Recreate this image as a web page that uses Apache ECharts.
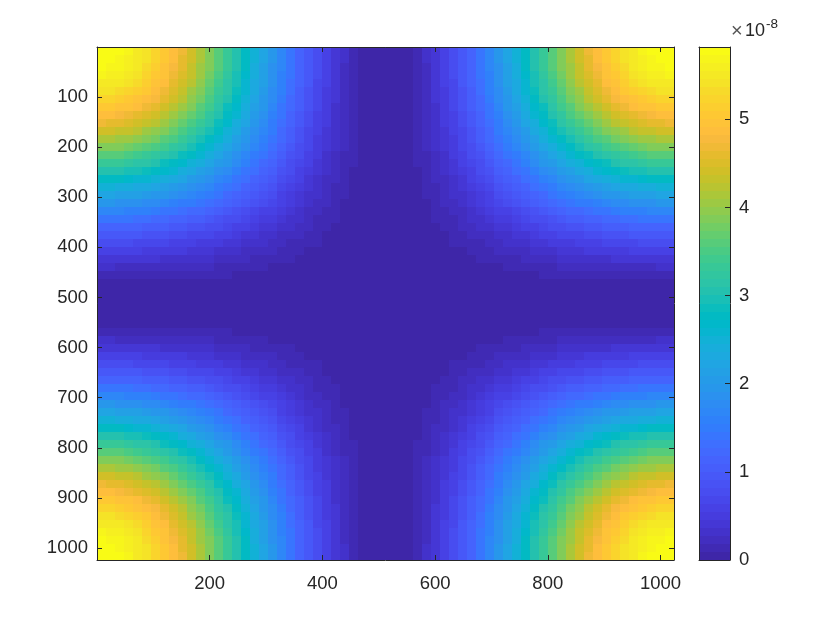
<!DOCTYPE html>
<html><head><meta charset="utf-8">
<script src="https://cdn.jsdelivr.net/npm/echarts@6/dist/echarts.min.js"></script>
<style>html,body{margin:0;padding:0;background:#fff}#c{width:840px;height:630px}</style>
</head><body><div id="c"></div>
<script>
// Values for its top-left quarter, unit 0.01e-8; cell size 16 data units.
const quarter = [
[581,579,573,565,554,540,524,506,486,464,440,415,389,361,333,305,277,248,220,193,166,141,118,96,75,57,41,28,17,9,3,0],
[579,576,570,562,551,538,522,504,484,462,438,413,387,360,332,304,275,247,219,192,166,141,117,95,75,57,41,28,17,9,3,0],
[573,570,565,557,546,532,517,499,479,457,434,409,383,356,329,301,273,245,217,190,164,139,116,94,74,56,41,27,17,9,3,0],
[565,562,557,549,538,525,509,492,472,451,428,403,378,351,324,296,269,241,214,187,162,137,114,93,73,56,40,27,17,8,3,0],
[554,551,546,538,528,515,500,482,463,442,419,395,370,344,318,291,263,236,210,184,159,135,112,91,72,55,39,27,16,8,3,0],
[540,538,532,525,515,502,487,471,452,431,409,386,361,336,310,284,257,231,205,179,155,131,109,89,70,53,38,26,16,8,3,0],
[524,522,517,509,500,487,473,457,439,419,397,375,351,326,301,275,249,224,199,174,150,127,106,86,68,52,37,25,15,8,3,0],
[506,504,499,492,482,471,457,441,423,404,384,362,339,315,290,266,241,216,192,168,145,123,102,83,66,50,36,24,15,8,3,0],
[486,484,479,472,463,452,439,423,407,388,368,347,325,302,279,255,231,208,184,161,139,118,98,80,63,48,35,23,14,7,3,0],
[464,462,457,451,442,431,419,404,388,371,352,331,310,289,266,244,221,198,176,154,133,113,94,76,60,46,33,22,14,7,2,0],
[440,438,434,428,419,409,397,384,368,352,334,314,295,274,253,231,209,188,167,146,126,107,89,72,57,43,31,21,13,7,2,0],
[415,413,409,403,395,386,375,362,347,331,314,297,278,258,238,218,198,177,157,138,119,101,84,68,54,41,30,20,12,6,2,0],
[389,387,383,378,370,361,351,339,325,310,295,278,260,242,223,204,185,166,147,129,111,95,79,64,50,38,28,19,11,6,2,0],
[361,360,356,351,344,336,326,315,302,289,274,258,242,225,207,190,172,154,137,120,104,88,73,59,47,36,26,17,11,5,2,0],
[333,332,329,324,318,310,301,290,279,266,253,238,223,207,191,175,159,142,126,111,96,81,67,55,43,33,24,16,10,5,2,0],
[305,304,301,296,291,284,275,266,255,244,231,218,204,190,175,160,145,130,116,101,87,74,62,50,40,30,22,15,9,5,2,0],
[277,275,273,269,263,257,249,241,231,221,209,198,185,172,159,145,132,118,105,92,79,67,56,45,36,27,20,13,8,4,1,0],
[248,247,245,241,236,231,224,216,208,198,188,177,166,154,142,130,118,106,94,82,71,60,50,41,32,24,18,12,7,4,1,0],
[220,219,217,214,210,205,199,192,184,176,167,157,147,137,126,116,105,94,83,73,63,54,45,36,29,22,16,11,6,3,1,0],
[193,192,190,187,184,179,174,168,161,154,146,138,129,120,111,101,92,82,73,64,55,47,39,32,25,19,14,9,6,3,1,0],
[166,166,164,162,159,155,150,145,139,133,126,119,111,104,96,87,79,71,63,55,48,40,34,27,22,16,12,8,5,2,1,0],
[141,141,139,137,135,131,127,123,118,113,107,101,95,88,81,74,67,60,54,47,40,34,29,23,18,14,10,7,4,2,1,0],
[118,117,116,114,112,109,106,102,98,94,89,84,79,73,67,62,56,50,45,39,34,29,24,19,15,12,8,6,3,2,1,0],
[96,95,94,93,91,89,86,83,80,76,72,68,64,59,55,50,45,41,36,32,27,23,19,16,12,9,7,5,3,1,1,0],
[75,75,74,73,72,70,68,66,63,60,57,54,50,47,43,40,36,32,29,25,22,18,15,12,10,7,5,4,2,1,0,0],
[57,57,56,56,55,53,52,50,48,46,43,41,38,36,33,30,27,24,22,19,16,14,12,9,7,6,4,3,2,1,0,0],
[41,41,41,40,39,38,37,36,35,33,31,30,28,26,24,22,20,18,16,14,12,10,8,7,5,4,3,2,1,1,0,0],
[28,28,27,27,27,26,25,24,23,22,21,20,19,17,16,15,13,12,11,9,8,7,6,5,4,3,2,1,1,0,0,0],
[17,17,17,17,16,16,15,15,14,14,13,12,11,11,10,9,8,7,6,6,5,4,3,3,2,2,1,1,0,0,0,0],
[9,9,9,8,8,8,8,8,7,7,7,6,6,5,5,5,4,4,3,3,2,2,2,1,1,1,1,0,0,0,0,0],
[3,3,3,3,3,3,3,3,3,2,2,2,2,2,2,2,1,1,1,1,1,1,1,1,0,0,0,0,0,0,0,0],
[0,0,0,0,0,0,0,0,0,0,0,0,0,0,0,0,0,0,0,0,0,0,0,0,0,0,0,0,0,0,0,0]
];
const xTickLabels = [200,400,600,800,1000];
const yTickLabels = [100,200,300,400,500,600,700,800,900,1000];
const barTickLabels = [0,1,2,3,4,5];
const colorMax = 5.82;
const imageSize = 1024;
const parula = [
[.2422,.1504,.6603],[.2504,.1650,.7076],[.2578,.1818,.7511],[.2647,.1978,.7952],[.2706,.2147,.8364],[.2751,.2342,.8710],[.2783,.2559,.8991],[.2803,.2782,.9221],
[.2813,.3006,.9414],[.2810,.3228,.9579],[.2795,.3447,.9717],[.2760,.3667,.9829],[.2699,.3892,.9906],[.2602,.4123,.9952],[.2440,.4358,.9988],[.2206,.4603,.9973],
[.1963,.4847,.9892],[.1834,.5074,.9798],[.1786,.5289,.9682],[.1764,.5499,.9520],[.1687,.5703,.9359],[.1540,.5902,.9218],[.1460,.6091,.9079],[.1380,.6276,.8973],
[.1248,.6459,.8883],[.1113,.6635,.8763],[.0952,.6798,.8598],[.0689,.6948,.8394],[.0297,.7082,.8163],[.0036,.7203,.7917],[.0067,.7312,.7660],[.0433,.7411,.7394],
[.0964,.7500,.7120],[.1408,.7584,.6842],[.1717,.7670,.6554],[.1938,.7758,.6251],[.2161,.7843,.5923],[.2470,.7918,.5567],[.2906,.7973,.5188],[.3406,.8008,.4789],
[.3909,.8029,.4354],[.4456,.8024,.3909],[.5044,.7993,.3480],[.5616,.7942,.3045],[.6174,.7876,.2612],[.6720,.7793,.2227],[.7242,.7698,.1910],[.7738,.7598,.1646],
[.8203,.7498,.1535],[.8634,.7406,.1596],[.9035,.7330,.1774],[.9393,.7288,.2100],[.9728,.7298,.2394],[.9956,.7434,.2371],[.9970,.7659,.2199],[.9952,.7861,.1999],
[.9892,.8086,.1827],[.9786,.8323,.1726],[.9676,.8568,.1650],[.9610,.8890,.1537],[.9597,.9135,.1423],[.9628,.9373,.1265],[.9691,.9606,.1064],[.9769,.9839,.0805]
];

const INK = '#262626';
const FAMILY = '"Liberation Sans",Arial,sans-serif';
// one flat colour per band of the 64-level colormap, as in the reference
function colorFor(v){
  const i = Math.max(0, Math.min(parula.length - 1, Math.floor(v / colorMax * parula.length)));
  return 'rgb(' + parula[i].map(p => Math.round(255 * p)).join(',') + ')';
}
function rectItem(params, api){
  const p0 = api.coord([api.value(0), api.value(1)]);
  const p1 = api.coord([api.value(2), api.value(3)]);
  const x0 = Math.round(Math.min(p0[0], p1[0])), x1 = Math.round(Math.max(p0[0], p1[0]));
  const y0 = Math.round(Math.min(p0[1], p1[1])), y1 = Math.round(Math.max(p0[1], p1[1]));
  return {type:'rect', shape:{x:x0, y:y0, width:x1-x0, height:y1-y0},
          style:{fill:colorFor(api.value(4)), stroke:null}};
}
// the picture is mirror-symmetric about its centre lines, so the quarter fills the whole image
const n = quarter.length, cell = imageSize / (2 * n);
const cells = [];
for (let r = 0; r < 2 * n; r++) for (let c = 0; c < 2 * n; c++) {
  const v = quarter[r < n ? r : 2*n-1-r][c < n ? c : 2*n-1-c] / 100;
  cells.push([c*cell, r*cell, (c+1)*cell, (r+1)*cell, v]);
}
const bands = parula.map((_, i) => [0, i*colorMax/parula.length, 1, (i+1)*colorMax/parula.length, (i+.5)/parula.length*colorMax]);

const line = {show:true, onZero:false, lineStyle:{color:INK, width:1}};
function axis(extra){
  return Object.assign({type:'value', z:5, axisLine:line, splitLine:{show:false},
    axisTick:{show:true, inside:true, length:5, lineStyle:{color:INK, width:1}},
    axisLabel:{show:false}}, extra);
}
function labels(list, margin, pad){
  return {show:true, margin:margin, showMinLabel:true, showMaxLabel:true, padding:pad,
    color:INK, fontFamily:FAMILY, fontSize:18.5,
    formatter:v => list.indexOf(v) >= 0 ? String(v) : ''};
}
const chart = echarts.init(document.getElementById('c'), null, {renderer:'canvas'});
chart.setOption({
  animation:false, backgroundColor:'#fff',
  graphic:[
    {type:'text', left:731, top:21, silent:true, style:{text:'×', fill:'#555', font:'20px '+FAMILY}},
    {type:'text', left:745, top:22, silent:true, style:{text:'10', fill:INK, font:'18px '+FAMILY}},
    {type:'text', left:766, top:17, silent:true, style:{text:'-8', fill:INK, font:'13.5px '+FAMILY}}
  ],
  grid:[{left:97, top:47, width:577, height:513},{left:699, top:47, width:31, height:513}],
  xAxis:[
    axis({gridIndex:0, position:'bottom', min:0, max:imageSize, interval:200, axisLabel:labels(xTickLabels,14,0)}),
    axis({gridIndex:0, position:'top', min:0, max:imageSize, interval:200}),
    axis({gridIndex:1, position:'bottom', min:0, max:1, axisTick:{show:false}}),
    axis({gridIndex:1, position:'top', min:0, max:1, axisTick:{show:false}})
  ],
  yAxis:[
    axis({gridIndex:0, position:'left', inverse:true, min:0, max:imageSize, interval:100, axisLabel:labels(yTickLabels,9,[4,0,0,0])}),
    axis({gridIndex:0, position:'right', inverse:true, min:0, max:imageSize, interval:100}),
    axis({gridIndex:1, position:'right', min:0, max:colorMax, interval:1, axisLabel:labels(barTickLabels,9,[4,0,0,0])}),
    axis({gridIndex:1, position:'left', min:0, max:colorMax, interval:1, axisTick:{show:false}})
  ],
  series:[
    {type:'custom', coordinateSystem:'cartesian2d', xAxisIndex:0, yAxisIndex:0, silent:true, z:1, progressive:0,
     renderItem:rectItem, encode:{x:[0,2], y:[1,3]}, data:cells},
    {type:'custom', coordinateSystem:'cartesian2d', xAxisIndex:2, yAxisIndex:2, silent:true, z:1, progressive:0,
     renderItem:rectItem, encode:{x:[0,2], y:[1,3]}, data:bands}
  ]
});
</script></body></html>
